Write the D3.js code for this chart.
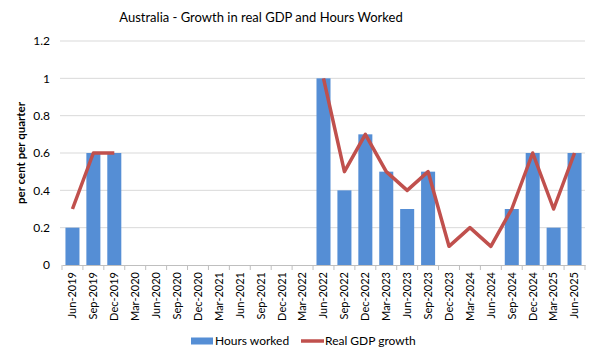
<!DOCTYPE html>
<html><head><meta charset="utf-8">
<script src="https://cdn.jsdelivr.net/npm/d3@7"></script>
<style>body{margin:0;background:#fff}svg{display:block}text{font-family:Lato,"Open Sans",sans-serif;fill:#000}</style>
</head><body><svg id="c" width="600" height="361"></svg>
<script>
const categories = ["Jun-2019","Sep-2019","Dec-2019","Mar-2020","Jun-2020","Sep-2020","Dec-2020","Mar-2021","Jun-2021","Sep-2021","Dec-2021","Mar-2022","Jun-2022","Sep-2022","Dec-2022","Mar-2023","Jun-2023","Sep-2023","Dec-2023","Mar-2024","Jun-2024","Sep-2024","Dec-2024","Mar-2025","Jun-2025"];
const hoursWorked = [0.2,0.6,0.6,null,null,null,null,null,null,null,null,null,1.0,0.4,0.7,0.5,0.3,0.5,0,0,0,0.3,0.6,0.2,0.6];
const realGDP = [0.3,0.6,0.6,null,null,null,null,null,null,null,null,null,1.0,0.5,0.7,0.5,0.4,0.5,0.1,0.2,0.1,0.3,0.6,0.3,0.6];
const yTicks = [0,0.2,0.4,0.6,0.8,1,1.2];

const svg = d3.select("#c");
const m = {l:62, r:15, t:41, b:96};
const W = 600, H = 361;
const x = d3.scaleBand().domain(categories).range([m.l, W-m.r]).paddingInner(0.33).paddingOuter(0.165);
const y = d3.scaleLinear().domain([0,1.2]).range([H-m.b, m.t]);

svg.append("text").attr("x",261).attr("y",22).attr("text-anchor","middle").attr("font-size",13).text("Australia - Growth in real GDP and Hours Worked");

// gridlines
svg.append("g").selectAll("line").data(yTicks.slice(1)).join("line")
  .attr("x1",m.l-2).attr("x2",W-m.r).attr("y1",d=>y(d)).attr("y2",d=>y(d))
  .attr("stroke","#d9d9d9").attr("stroke-width",1);

// y axis
const ya = svg.append("g").attr("transform",`translate(${m.l-2},0)`)
  .call(d3.axisLeft(y).tickValues(yTicks).tickSize(0).tickPadding(10).tickFormat(d3.format("~g")));
ya.select(".domain").remove();
ya.selectAll("text").attr("font-size",12).style("font-family","Lato,'Open Sans',sans-serif");

svg.append("text").attr("transform",`translate(25,${(m.t+H-m.b)/2}) rotate(-90)`)
  .attr("text-anchor","middle").attr("font-size",11.5).attr("font-weight","bold").text("per cent per quarter");

// bars
svg.append("g").selectAll("rect").data(categories.map((c,i)=>({c,v:hoursWorked[i]})).filter(d=>d.v))
  .join("rect").attr("x",d=>x(d.c)).attr("width",x.bandwidth())
  .attr("y",d=>y(d.v)).attr("height",d=>y(0)-y(d.v)).attr("fill","#558ed5");

// x axis
const xa = svg.append("g").attr("transform",`translate(0,${y(0)})`)
  .call(d3.axisBottom(x).tickSize(5).tickPadding(4).tickSizeOuter(0));
xa.select(".domain").attr("stroke","#bfbfbf");
xa.selectAll(".tick line").attr("stroke","#bfbfbf").attr("transform",`translate(${-x.step()/2},0)`);
xa.append("line").attr("x1",W-m.r).attr("x2",W-m.r).attr("y1",0).attr("y2",5).attr("stroke","#bfbfbf");
xa.selectAll(".tick text").attr("font-size",11).style("font-family","Lato,'Open Sans',sans-serif")
  .attr("transform","rotate(-90)").attr("text-anchor","end").attr("x",-7).attr("y",0).attr("dy","0.35em");

// line
const line = d3.line().defined(d=>d.v!=null).x(d=>x(d.c)+x.bandwidth()/2).y(d=>y(d.v));
svg.append("path").datum(categories.map((c,i)=>({c,v:realGDP[i]})))
  .attr("d",line).attr("fill","none").attr("stroke","#c0504d").attr("stroke-width",3.5).attr("stroke-linejoin","round");

// legend
const lg = svg.append("g").attr("transform","translate(0,341)");
lg.append("rect").attr("x",191).attr("y",-3.5).attr("width",22).attr("height",7).attr("fill","#558ed5");
lg.append("text").attr("x",215).attr("y",0).attr("dy","0.35em").attr("font-size",12).text("Hours worked");
lg.append("line").attr("x1",301).attr("x2",324).attr("y1",0).attr("y2",0).attr("stroke","#c0504d").attr("stroke-width",3.5);
lg.append("text").attr("x",325).attr("y",0).attr("dy","0.35em").attr("font-size",12).text("Real GDP growth");
</script></body></html>
